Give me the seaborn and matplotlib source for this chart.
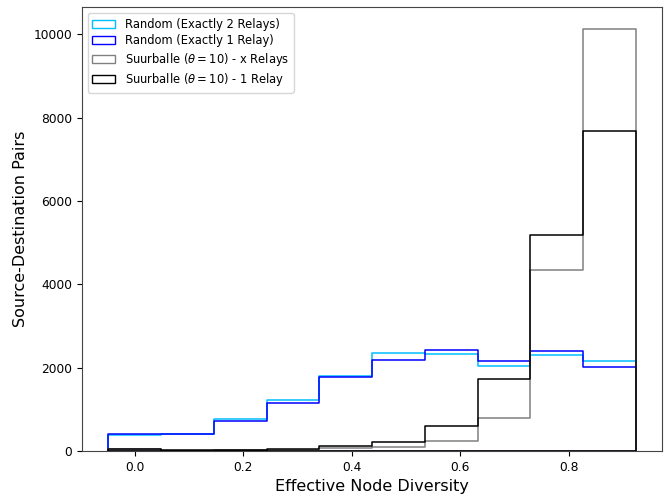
import matplotlib
matplotlib.use("Agg")
import matplotlib.pyplot as plt
from matplotlib.patches import Patch
import seaborn as sns

# bin edges and per-bin counts
bin_edges = [-0.0485, 0.0487, 0.1459, 0.2431, 0.3403, 0.4375,
             0.5347, 0.6319, 0.7291, 0.8263, 0.9235]
bin_centers = [0.0, 0.0972, 0.1944, 0.2917, 0.3889, 0.4861,
               0.5833, 0.6806, 0.7778, 0.8750]

random_2_relays = [376, 405, 774, 1229, 1789, 2340, 2316, 2036, 2299, 2148]
random_1_relay = [414, 414, 726, 1150, 1772, 2180, 2419, 2156, 2403, 2020]
suurballe_x_relays = [40, 10, 15, 30, 80, 96, 240, 783, 4352, 10124]
suurballe_1_relay = [55, 15, 20, 45, 120, 224, 606, 1732, 5174, 7689]

labels = ["Random (Exactly 2 Relays)", "Random (Exactly 1 Relay)",
          r"Suurballe ($\theta = 10$) - x Relays", r"Suurballe ($\theta = 10$) - 1 Relay"]
colors = ["deepskyblue", "blue", "gray", "black"]

fig = plt.figure(figsize=(6.68, 4.96), dpi=100)
ax = fig.add_axes([0.1228, 0.0907, 0.8687, 0.8946])

series = [random_2_relays, random_1_relay, suurballe_x_relays, suurballe_1_relay]
for counts, color in zip(series, colors):
    sns.histplot(x=bin_centers, weights=counts, bins=bin_edges, element="step",
                 fill=True, color=color, linewidth=1.1, ax=ax)
    # empty the face so only the step outline (down to zero at both ends) stays
    poly = ax.collections[-1]
    poly.set_facecolor("none")
    poly.set_edgecolor(color)
    poly.set_alpha(None)

ax.set_ylim(0, 10647)
ax.set_xlabel("Effective Node Diversity", fontsize=11.5)
ax.set_ylabel("Source-Destination Pairs", fontsize=11.5)
ax.tick_params(labelsize=8.8)
for sp in ax.spines.values():
    sp.set_color("#444444")

handles = [Patch(facecolor="none", edgecolor=c, label=l) for c, l in zip(colors, labels)]
ax.legend(handles=handles, loc="upper left", fontsize=8.3, labelspacing=0.3)

fig.savefig("out.png", dpi=100)
